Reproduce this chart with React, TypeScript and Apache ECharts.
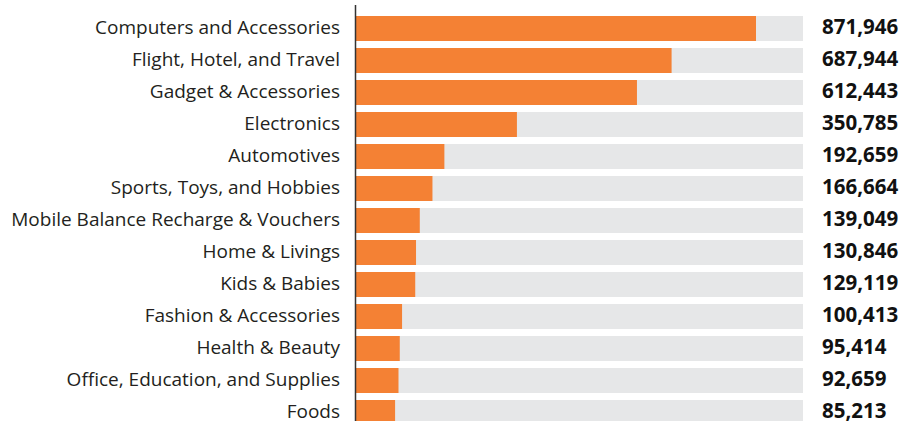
import React, { useEffect, useRef } from "react";
import * as echarts from "echarts";

const categories = [
  "Computers and Accessories",
  "Flight, Hotel, and Travel",
  "Gadget & Accessories",
  "Electronics",
  "Automotives",
  "Sports, Toys, and Hobbies",
  "Mobile Balance Recharge & Vouchers",
  "Home & Livings",
  "Kids & Babies",
  "Fashion & Accessories",
  "Health & Beauty",
  "Office, Education, and Supplies",
  "Foods",
];

const values = [
  871946, 687944, 612443, 350785, 192659, 166664, 139049, 130846, 129119,
  100413, 95414, 92659, 85213,
];

const axisMax = 974400;

export default function App() {
  const ref = useRef<HTMLDivElement>(null);
  useEffect(() => {
    if (!ref.current) return;
    const chart = echarts.init(ref.current, null, { renderer: "svg" });
    chart.setOption({
      animation: false,
      grid: { left: 356, right: 106, top: 12.5, height: 416, containLabel: false },
      xAxis: {
        type: "value",
        min: 0,
        max: axisMax,
        show: false,
      },
      yAxis: [
        {
          type: "category",
          data: categories,
          inverse: true,
          axisLine: { show: false },
          axisTick: { show: false },
          axisLabel: {
            margin: 16,
            formatter: (v: string) => `{c|${v}}`,
            rich: {
              c: {
                fontFamily: "Open Sans",
                fontSize: 19,
                color: "#231f20",
                padding: [0, 0, 4, 0],
              },
            },
          },
        },
        {
          type: "category",
          data: values.map((v) => v.toLocaleString("en-US")),
          inverse: true,
          position: "right",
          axisLine: { show: false },
          axisTick: { show: false },
          axisLabel: {
            margin: 19,
            align: "left",
            formatter: (v: string) => `{v|${v}}`,
            rich: {
              v: {
                fontFamily: "Open Sans",
                fontWeight: "bold",
                fontSize: 20.5,
                color: "#111111",
                padding: [0, 0, 5, 0],
              },
            },
          },
        },
      ],
      series: [
        {
          type: "bar",
          data: values,
          barWidth: 25,
          itemStyle: { color: "#f48134" },
          showBackground: true,
          backgroundStyle: { color: "#e6e7e8" },
        },
      ],
      graphic: [
        {
          type: "line",
          shape: { x1: 355.5, y1: 5, x2: 355.5, y2: 440 },
          style: { stroke: "#333333", lineWidth: 1.5 },
          z: 10,
        },
      ],
    });
    return () => chart.dispose();
  }, []);
  return (
    <div style={{ position: "absolute", left: 0, top: 0, width: 909, height: 421, overflow: "hidden" }}>
      <div ref={ref} style={{ width: 909, height: 440 }} />
    </div>
  );
}
